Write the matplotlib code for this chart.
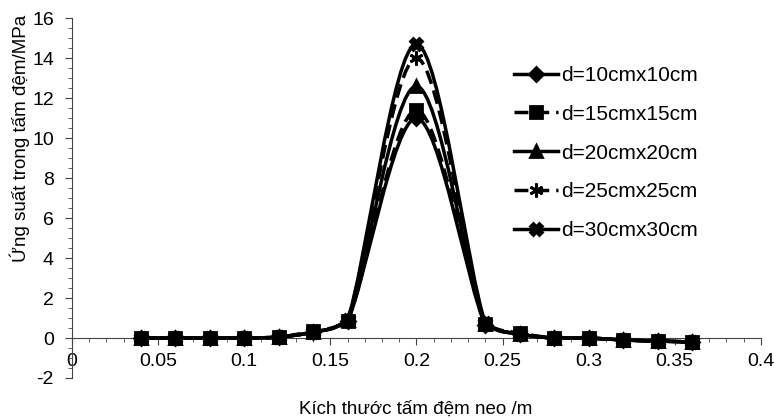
#!/usr/bin/env python3
"""
Stress in anchor plate vs plate size - smoothed Excel-style line chart
"""

import numpy as np
import matplotlib
matplotlib.use('Agg')
import matplotlib.pyplot as plt
from matplotlib.path import Path
from matplotlib.patches import PathPatch
from matplotlib.lines import Line2D
from matplotlib.ticker import MultipleLocator

plt.rcParams['font.family'] = ['Liberation Sans', 'DejaVu Sans']
plt.rcParams['axes.unicode_minus'] = False

# Data
plate_size = [0.04, 0.06, 0.08, 0.10, 0.12, 0.14, 0.16, 0.20, 0.24, 0.26, 0.28, 0.30, 0.32, 0.34, 0.36]
d10 = [0.0, 0.0, 0.0, 0.0, 0.05, 0.3, 0.85, 11.0, 0.65, 0.2, 0.0, 0.0, -0.1, -0.15, -0.2]
d15 = [0.0, 0.0, 0.0, 0.0, 0.05, 0.35, 0.85, 11.4, 0.7, 0.25, 0.0, 0.0, -0.1, -0.15, -0.2]
d20 = [0.0, 0.0, 0.0, 0.0, 0.05, 0.3, 0.9, 12.6, 0.7, 0.2, 0.0, 0.0, -0.1, -0.15, -0.2]
d25 = [0.0, 0.0, 0.0, 0.0, 0.05, 0.3, 0.9, 14.0, 0.7, 0.2, 0.0, 0.0, -0.1, -0.15, -0.2]
d30 = [0.0, 0.0, 0.0, 0.0, 0.05, 0.3, 0.9, 14.7, 0.75, 0.2, 0.0, 0.0, -0.1, -0.15, -0.2]

labels = ['d=10cmx10cm', 'd=15cmx15cm', 'd=20cmx20cm', 'd=25cmx25cm', 'd=30cmx30cm']
series = [d10, d15, d20, d25, d30]

# style per series: (linestyle, marker, markersize)
styles = [
    ('-', 'D', 7),
    ((0, (4, 2)), 's', 8),
    ('-', '^', 9),
    ((0, (4, 2)), (6, 2, 0), 10),
    ('-', 'X', 9),
]


def smooth_path(x, y):
    """Catmull-Rom style Bezier path (Excel 'smoothed line'), control points
    kept inside each segment's y-range so the curve does not overshoot"""
    pts = np.column_stack([x, y]).astype(float)
    verts = [tuple(pts[0])]
    codes = [Path.MOVETO]
    n = len(pts)
    for i in range(n - 1):
        p_prev = pts[i - 1] if i > 0 else pts[i]
        p_next2 = pts[i + 2] if i + 2 < n else pts[i + 1]
        c1 = pts[i] + (pts[i + 1] - p_prev) / 6
        c2 = pts[i + 1] - (p_next2 - pts[i]) / 6
        lo, hi = sorted((pts[i, 1], pts[i + 1, 1]))
        c1[1] = np.clip(c1[1], lo, hi)
        c2[1] = np.clip(c2[1], lo, hi)
        verts += [tuple(c1), tuple(c2), tuple(pts[i + 1])]
        codes += [Path.CURVE4] * 3
    return Path(verts, codes)


fig = plt.figure(figsize=(7.74, 4.2), dpi=100)
ax = fig.add_axes([0.093, 0.10, 0.890, 0.857])

handles = []
for vals, lab, (ls, mk, ms) in zip(series, labels, styles):
    patch = PathPatch(smooth_path(plate_size, vals), facecolor='none', edgecolor='black',
                      linewidth=2.5, linestyle=ls, zorder=3)
    ax.add_patch(patch)
    ax.plot(plate_size, vals, linestyle='none', marker=mk, markersize=ms,
            color='black', markeredgewidth=2, zorder=4)
    handles.append(Line2D([], [], color='black', linewidth=2.5, linestyle=ls,
                          marker=mk, markersize=ms, markeredgewidth=2))

ax.set_xlim(0, 0.4)
ax.set_ylim(-2, 16)

# axes styling
ax.spines['top'].set_visible(False)
ax.spines['right'].set_visible(False)
ax.spines['bottom'].set_position(('data', 0))
ax.spines['left'].set_color('#444444')
ax.spines['bottom'].set_color('#444444')
ax.xaxis.set_major_locator(MultipleLocator(0.05))
ax.xaxis.set_minor_locator(MultipleLocator(0.01))
ax.yaxis.set_major_locator(MultipleLocator(2))
ax.yaxis.set_minor_locator(MultipleLocator(0.5))
ax.xaxis.set_major_formatter(plt.FuncFormatter(lambda v, p: f'{v:g}'))
ax.tick_params(axis='both', which='major', labelsize=14, length=5, color='#444444')
ax.tick_params(axis='both', which='minor', length=3, color='#444444')
ax.tick_params(axis='x', which='major', pad=6)
ax.tick_params(axis='y', which='major', pad=8)

ax.legend(handles=handles, labels=labels, loc='upper left', frameon=False,
          bbox_to_anchor=(0.664, 0.843), bbox_transform=fig.transFigure,
          fontsize=15, handlelength=2.1, handletextpad=0.15, labelspacing=0.95,
          borderpad=0, borderaxespad=0)

fig.text(0.537, 0.025, 'Kích thước tấm đệm neo /m', ha='center', va='center', fontsize=13.5)
fig.text(0.025, 0.67, 'Ứng suất trong tấm đệm/MPa', ha='center', va='center',
         rotation=90, fontsize=13.5)

fig.savefig('out.png', dpi=100)
